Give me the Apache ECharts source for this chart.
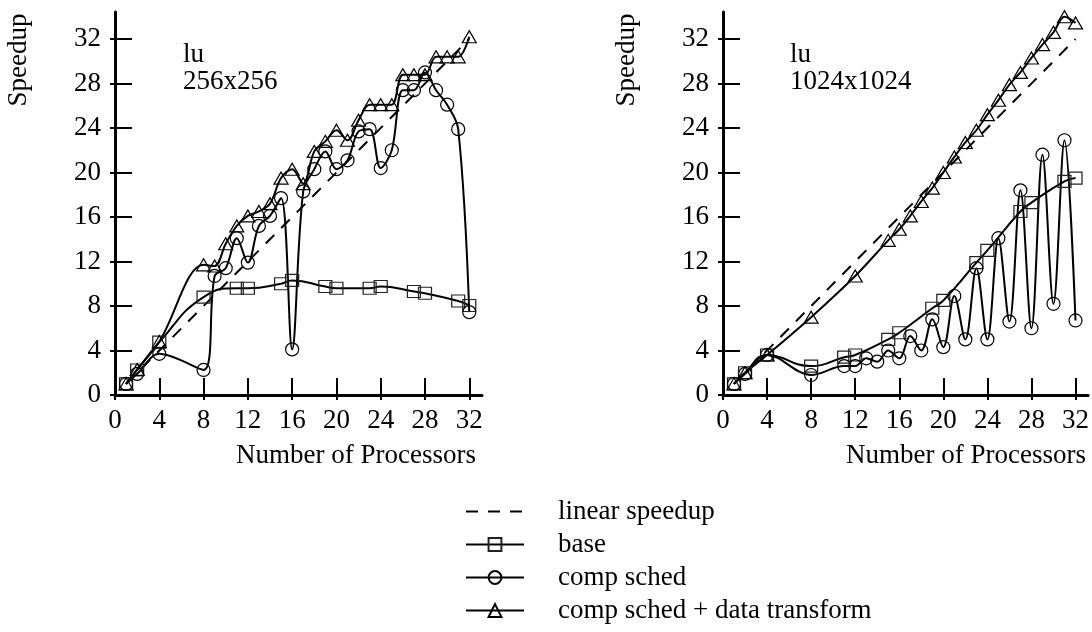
<!DOCTYPE html>
<html>
<head>
<meta charset="utf-8">
<script src="https://cdn.jsdelivr.net/npm/echarts@6/dist/echarts.min.js"></script>
<style>
  html, body { margin: 0; padding: 0; background: #fff; }
  #chart { width: 1092px; height: 632px; }
</style>
</head>
<body>
<div id="chart"></div>
<script>
const FONT = '"Liberation Serif", "Times New Roman", Times, serif';

// Axis ticks (number of processors / speedup)
const xTicks = [0, 4, 8, 12, 16, 20, 24, 28, 32];
const yTicks = [0, 4, 8, 12, 16, 20, 24, 28, 32];

// Ideal speedup reference line
const linearProcs = [1, 32];
const linearSpeedup = [1, 32];

// lu, 256x256
const baseProcs256 = [1, 2, 4, 8, 11, 12, 15, 16, 19, 20, 23, 24, 27, 28, 31, 32];
const baseSpeedup256 = [1.0, 2.25, 4.75, 8.8, 9.6, 9.6, 10.0, 10.3, 9.75, 9.6, 9.6, 9.75, 9.3, 9.15, 8.45, 8.05];

const schedProcs256 = [1, 2, 4, 8, 9, 10, 11, 12, 13, 14, 15, 16, 17, 18, 19, 20, 21, 22, 23, 24, 25, 26, 27, 28, 29, 30, 31, 32];
const schedSpeedup256 = [1.0, 1.9, 3.7, 2.25, 10.7, 11.4, 14.1, 11.9, 15.2, 16.1, 17.7, 4.1, 18.3, 20.3, 21.9, 20.3, 21.1, 23.7, 23.9, 20.4, 22.0, 27.4, 27.4, 29.0, 27.4, 26.1, 23.9, 7.45];

const transProcs256 = [1, 2, 4, 8, 9, 10, 11, 12, 13, 14, 15, 16, 17, 18, 19, 20, 21, 22, 23, 24, 25, 26, 27, 28, 29, 30, 31, 32];
const transSpeedup256 = [1.0, 2.3, 4.8, 11.7, 11.6, 13.6, 15.2, 16.1, 16.5, 17.2, 19.5, 20.3, 19.0, 21.9, 22.8, 23.8, 22.9, 24.7, 26.1, 26.1, 26.1, 28.8, 28.8, 28.8, 30.4, 30.4, 30.4, 32.2];

// lu, 1024x1024
const baseProcs1024 = [1, 2, 4, 8, 11, 12, 15, 16, 19, 20, 23, 24, 27, 28, 31, 32];
const baseSpeedup1024 = [1.0, 2.0, 3.6, 2.6, 3.4, 3.6, 5.0, 5.6, 7.8, 8.5, 11.9, 13.0, 16.5, 17.3, 19.2, 19.5];

const schedProcs1024 = [1, 2, 4, 8, 11, 12, 13, 14, 15, 16, 17, 18, 19, 20, 21, 22, 23, 24, 25, 26, 27, 28, 29, 30, 31, 32];
const schedSpeedup1024 = [1.0, 1.9, 3.6, 1.8, 2.6, 2.6, 3.3, 3.0, 4.0, 3.3, 5.3, 4.0, 6.8, 4.3, 8.9, 5.0, 11.4, 5.0, 14.1, 6.6, 18.4, 6.0, 21.6, 8.2, 22.9, 6.7];

const transProcs1024 = [1, 2, 4, 8, 12, 15, 16, 17, 18, 19, 20, 21, 22, 23, 24, 25, 26, 27, 28, 29, 30, 31, 32];
const transSpeedup1024 = [1.0, 2.0, 3.6, 7.0, 10.7, 13.9, 14.9, 16.1, 17.4, 18.6, 20.0, 21.4, 22.7, 23.8, 25.2, 26.5, 27.9, 29.0, 30.3, 31.5, 32.6, 34.0, 33.45];

const SERIES_NAMES = ['linear speedup', 'base', 'comp sched', 'comp sched + data transform'];

const pairs = (xs, ys) => xs.map((x, i) => [x, ys[i]]);

const X_MAX = 33.15;
const Y_MAX = 34.43;

function xAxesFor(gridIndex) {
  return [
    {
      gridIndex, type: 'value', min: 0, max: X_MAX, position: 'bottom',
      axisLine: { lineStyle: { color: '#000', width: 3 } },
      axisTick: { inside: true, length: 17, customValues: xTicks, lineStyle: { color: '#000', width: 2 } },
      axisLabel: { customValues: xTicks, color: '#000', fontFamily: FONT, fontSize: 27, margin: 12 },
      splitLine: { show: false }
    },
    {
      gridIndex, type: 'value', min: 0, max: X_MAX, position: 'bottom',
      axisLine: { show: false },
      axisTick: { inside: false, length: 5, customValues: xTicks, lineStyle: { color: '#000', width: 2 } },
      axisLabel: { show: false },
      splitLine: { show: false }
    }
  ];
}

function yAxesFor(gridIndex) {
  return [
    {
      gridIndex, type: 'value', min: 0, max: Y_MAX, position: 'left',
      axisLine: { lineStyle: { color: '#000', width: 3 } },
      axisTick: { inside: true, length: 17, customValues: yTicks, lineStyle: { color: '#000', width: 2 } },
      axisLabel: { customValues: yTicks, color: '#000', fontFamily: FONT, fontSize: 27, margin: 14 },
      splitLine: { show: false }
    },
    {
      gridIndex, type: 'value', min: 0, max: Y_MAX, position: 'left',
      axisLine: { show: false },
      axisTick: { inside: false, length: 5, customValues: yTicks, lineStyle: { color: '#000', width: 2 } },
      axisLabel: { show: false },
      splitLine: { show: false }
    }
  ];
}

const markerStyle = {
  'base': { symbol: 'rect', symbolSize: [13, 12], smooth: 0.5, border: '#222' },
  'comp sched': { symbol: 'circle', symbolSize: 13, smooth: 0.35, border: '#000' },
  'comp sched + data transform': { symbol: 'triangle', symbolSize: [14, 12], smooth: 0.35, border: '#000' }
};

function panelSeries(axisIdx, sets) {
  const out = [{
    name: 'linear speedup', type: 'line', xAxisIndex: axisIdx, yAxisIndex: axisIdx,
    data: pairs(linearProcs, linearSpeedup), symbol: 'none', z: 1,
    lineStyle: { color: '#000', width: 2, type: [12, 10] },
    itemStyle: { color: 'rgba(0,0,0,0)', borderWidth: 0 }
  }];
  sets.forEach(([name, xs, ys]) => {
    const m = markerStyle[name];
    out.push({
      name, type: 'line', xAxisIndex: axisIdx, yAxisIndex: axisIdx,
      data: pairs(xs, ys), smooth: m.smooth, symbol: m.symbol, symbolSize: m.symbolSize,
      showSymbol: true, z: 2,
      lineStyle: { color: '#000', width: 2 },
      itemStyle: { color: 'rgba(255,255,255,0)', borderColor: m.border, borderWidth: 1.2 }
    });
  });
  return out;
}

const series = [
  ...panelSeries(0, [
    ['base', baseProcs256, baseSpeedup256],
    ['comp sched', schedProcs256, schedSpeedup256],
    ['comp sched + data transform', transProcs256, transSpeedup256]
  ]),
  ...panelSeries(2, [
    ['base', baseProcs1024, baseSpeedup1024],
    ['comp sched', schedProcs1024, schedSpeedup1024],
    ['comp sched + data transform', transProcs1024, transSpeedup1024]
  ])
];

const textStyle = { fontFamily: FONT, fontSize: 27, fill: '#000' };

const option = {
  animation: false,
  backgroundColor: '#fff',
  grid: [
    { left: 115, top: 12, width: 367, height: 383 },
    { left: 723, top: 12, width: 367, height: 383 }
  ],
  xAxis: [...xAxesFor(0), ...xAxesFor(1)],
  yAxis: [...yAxesFor(0), ...yAxesFor(1)],
  series,
  legend: {
    data: SERIES_NAMES,
    orient: 'vertical',
    left: 460,
    top: 493,
    itemWidth: 58,
    itemHeight: 16,
    itemGap: 6,
    selectedMode: false,
    textStyle: { color: '#000', fontFamily: FONT, fontSize: 27, padding: [0, 0, 0, 29] }
  },
  graphic: [
    { type: 'text', x: 19, y: 60, rotation: Math.PI / 2, style: Object.assign({ text: 'Speedup', align: 'center', verticalAlign: 'middle' }, textStyle) },
    { type: 'text', x: 627, y: 60, rotation: Math.PI / 2, style: Object.assign({ text: 'Speedup', align: 'center', verticalAlign: 'middle' }, textStyle) },
    { type: 'text', x: 183, y: 41, style: Object.assign({ text: 'lu', align: 'left', verticalAlign: 'top' }, textStyle) },
    { type: 'text', x: 183, y: 68, style: Object.assign({ text: '256x256', align: 'left', verticalAlign: 'top' }, textStyle) },
    { type: 'text', x: 790, y: 41, style: Object.assign({ text: 'lu', align: 'left', verticalAlign: 'top' }, textStyle) },
    { type: 'text', x: 790, y: 68, style: Object.assign({ text: '1024x1024', align: 'left', verticalAlign: 'top' }, textStyle) },
    { type: 'text', x: 476, y: 456, style: Object.assign({ text: 'Number of Processors', align: 'right', verticalAlign: 'middle' }, textStyle) },
    { type: 'text', x: 1086, y: 456, style: Object.assign({ text: 'Number of Processors', align: 'right', verticalAlign: 'middle' }, textStyle) }
  ]
};

const chart = echarts.init(document.getElementById('chart'), null, { renderer: 'canvas' });
chart.setOption(option);
</script>
</body>
</html>
